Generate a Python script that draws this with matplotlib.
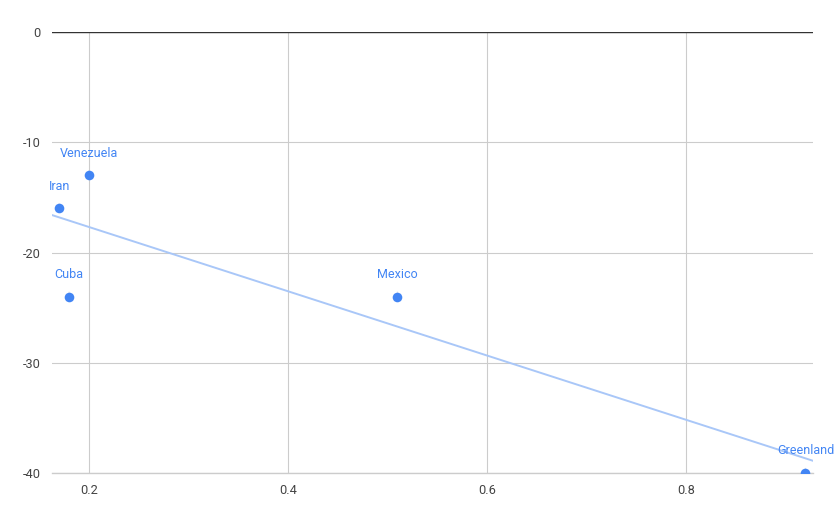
import numpy as np
import matplotlib
matplotlib.use("Agg")
import matplotlib.pyplot as plt

plt.rcParams["font.family"] = ["Roboto", "DejaVu Sans"]

countries = ["Iran", "Cuba", "Venezuela", "Mexico", "Greenland"]
xValues = [0.17, 0.18, 0.20, 0.51, 0.92]
yValues = [-16, -24, -13, -24, -40]

xTicks = [0.2, 0.4, 0.6, 0.8]
yTicks = [0, -10, -20, -30, -40]

POINT = "#4285f4"
TREND = "#a9c7f8"

figure = plt.figure(figsize=(8.39, 5.19), dpi=100)
ax = figure.add_axes([52 / 839, 46 / 519, 761 / 839, 441 / 519])

ax.set_xlim(0.1628, 0.9276)
ax.set_ylim(-40, 0)

ax.set_xticks(xTicks)
ax.set_xticklabels([f"{t:.1f}" for t in xTicks])
ax.set_yticks(yTicks)
ax.set_yticklabels([str(t) for t in yTicks])

ax.grid(True, color="#cccccc", linewidth=0.8)
ax.set_axisbelow(True)
for side in ["left", "right", "bottom", "top"]:
    ax.spines[side].set_visible(False)
ax.axhline(-40, color="#cccccc", linewidth=1.0, zorder=1, clip_on=False)
ax.axhline(0, color="#333333", linewidth=1.0, zorder=2)
ax.tick_params(length=0, labelsize=9.2, labelcolor="#444444", pad=8)

# linear trendline
slope, intercept = np.polyfit(xValues, yValues, 1)
xLine = np.array(ax.get_xlim())
ax.plot(xLine, slope * xLine + intercept, color=TREND, linewidth=1.4, zorder=3)

ax.scatter(xValues, yValues, s=48, color=POINT, zorder=4, linewidths=0)

for name, x, y in zip(countries, xValues, yValues):
    ax.annotate(name, (x, y), xytext=(0, 16), textcoords="offset points",
                ha="center", va="center", fontsize=9, color=POINT,
                annotation_clip=False,
                arrowprops=dict(arrowstyle="-", color="#e3e3e3", lw=0.8,
                                shrinkA=6, shrinkB=3))

figure.savefig("out.png", dpi=100)
